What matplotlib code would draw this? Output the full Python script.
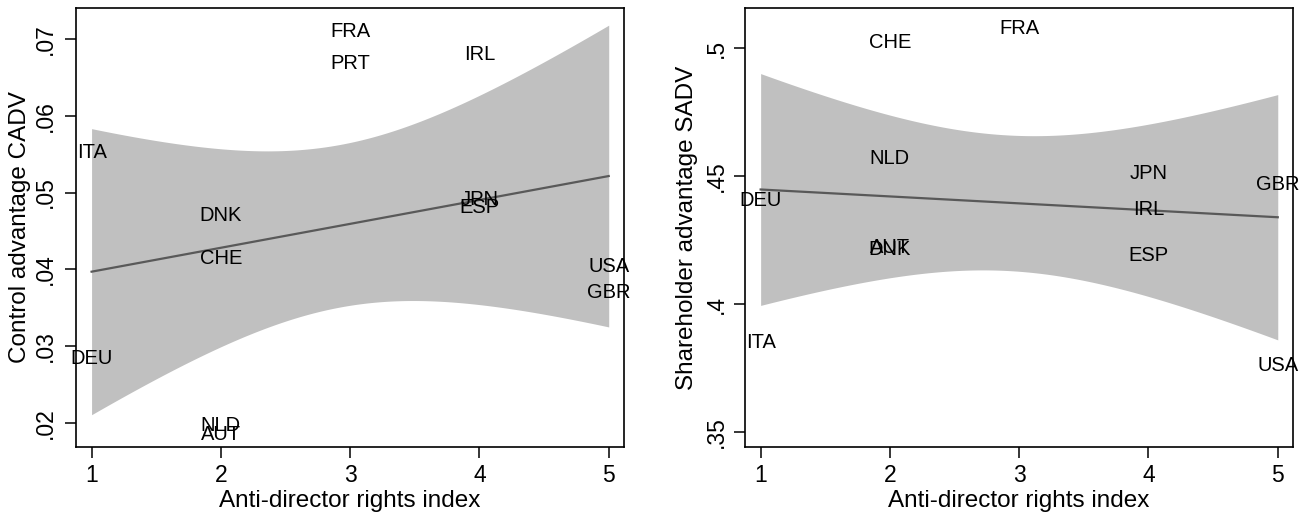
import numpy as np
import matplotlib
matplotlib.use("Agg")
import matplotlib.pyplot as plt

plt.rcParams["font.family"] = ["Liberation Sans", "DejaVu Sans"]

# Control advantage (CADV) by anti-director rights index
cadv_countries = ["ITA", "DEU", "DNK", "CHE", "NLD", "AUT", "FRA", "PRT",
                  "IRL", "JPN", "ESP", "USA", "GBR"]
cadv_adri = [1, 1, 2, 2, 2, 2, 3, 3, 4, 4, 4, 5, 5]
cadv_values = [0.0555, 0.0287, 0.0473, 0.0417, 0.0199, 0.0188, 0.0712,
               0.0670, 0.0682, 0.0494, 0.0483, 0.0407, 0.0372]

# Shareholder advantage (SADV) by anti-director rights index
sadv_countries = ["DEU", "ITA", "CHE", "NLD", "AUT", "DNK", "FRA", "JPN",
                  "IRL", "ESP", "GBR", "USA"]
sadv_adri = [1, 1, 2, 2, 2, 2, 3, 4, 4, 4, 5, 5]
sadv_values = [0.4413, 0.3858, 0.5031, 0.4577, 0.4228, 0.4222, 0.5087,
               0.4520, 0.4377, 0.4197, 0.4475, 0.3769]

x_ticks = [1, 2, 3, 4, 5]
cadv_ticks = [0.02, 0.03, 0.04, 0.05, 0.06, 0.07]
cadv_ticklabels = [".02", ".03", ".04", ".05", ".06", ".07"]
sadv_ticks = [0.35, 0.40, 0.45, 0.50]
sadv_ticklabels = [".35", ".4", ".45", ".5"]

# two-sided 95% Student t critical values by residual degrees of freedom
T975 = {10: 2.228, 11: 2.201}

BAND = "#c0c0c0"
LINE = "#595959"


def fit_with_ci(x, y, grid):
    x = np.asarray(x, float)
    y = np.asarray(y, float)
    n = len(x)
    xbar = x.mean()
    sxx = ((x - xbar) ** 2).sum()
    slope = ((x - xbar) * (y - y.mean())).sum() / sxx
    icpt = y.mean() - slope * xbar
    resid = y - (icpt + slope * x)
    s = np.sqrt((resid ** 2).sum() / (n - 2))
    pred = icpt + slope * grid
    se = s * np.sqrt(1.0 / n + (grid - xbar) ** 2 / sxx)
    half = T975[n - 2] * se
    return pred, pred - half, pred + half


def panel(ax, x, y, names, ylim, yticks, yticklabels, ylabel, ypad, ylab_x):
    grid = np.linspace(min(x), max(x), 200)
    pred, lo, hi = fit_with_ci(x, y, grid)
    ax.fill_between(grid, lo, hi, color=BAND, linewidth=0, zorder=1)
    ax.plot(grid, pred, color=LINE, linewidth=1.6, zorder=2)
    for xi, yi, nm in zip(x, y, names):
        ax.text(xi, yi, nm, ha="center", va="center_baseline",
                fontsize=14.5, color="black", zorder=3)
    ax.set_xlim(0.879, 5.118)
    ax.set_ylim(*ylim)
    ax.set_xticks(x_ticks)
    ax.set_xticklabels([str(t) for t in x_ticks])
    ax.set_yticks(yticks)
    ax.set_yticklabels(yticklabels, rotation=90, va="center")
    ax.tick_params(axis="both", direction="out", length=8, width=1.1,
                   labelsize=16.5)
    ax.tick_params(axis="x", pad=4)
    ax.tick_params(axis="y", pad=ypad)
    for sp in ax.spines.values():
        sp.set_linewidth(1.2)
        sp.set_color("black")
    ax.set_xlabel("Anti-director rights index", fontsize=17.5)
    ax.set_ylabel(ylabel, fontsize=17.5)
    ax.xaxis.set_label_coords(0.5, -0.098)
    ax.yaxis.set_label_coords(ylab_x, 0.5)


fig = plt.figure(figsize=(13.07, 5.17), dpi=100)
ax1 = fig.add_axes([0.0581, 0.1354, 0.4193, 0.8491])
ax2 = fig.add_axes([0.5700, 0.1354, 0.4193, 0.8491])

panel(ax1, cadv_adri, cadv_values, cadv_countries, (0.0169, 0.0740),
      cadv_ticks, cadv_ticklabels, "Control advantage CADV", 5.5, -0.082)
panel(ax2, sadv_adri, sadv_values, sadv_countries, (0.3441, 0.5158),
      sadv_ticks, sadv_ticklabels, "Shareholder advantage SADV", 4, -0.086)

fig.savefig("out.png", dpi=100, facecolor="white")
